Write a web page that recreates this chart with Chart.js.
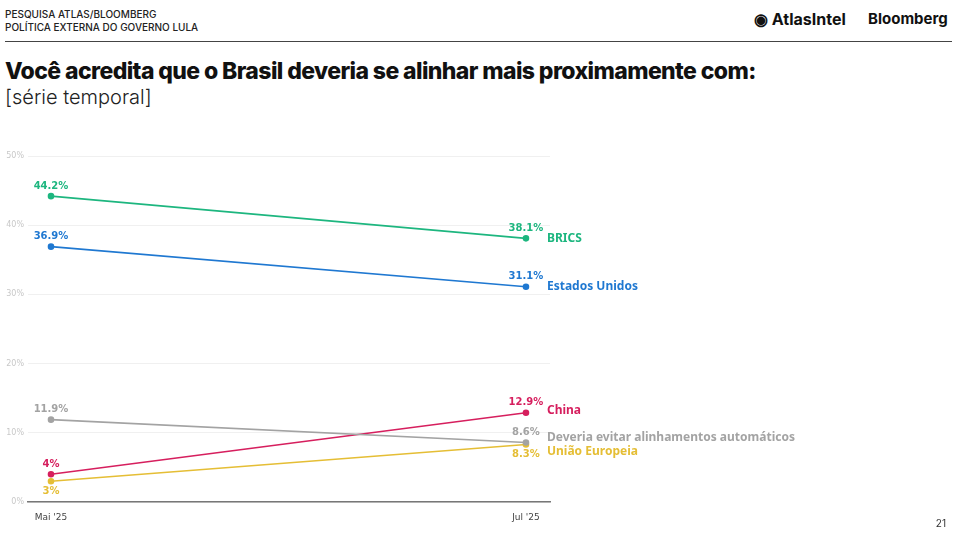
<!DOCTYPE html>
<html><head><meta charset="utf-8">
<script src="https://cdn.jsdelivr.net/npm/chart.js@4"></script>
<style>
body{margin:0;width:960px;height:540px;background:#fff;font-family:Inter,"Noto Sans",sans-serif;position:relative;overflow:hidden}
.hdr{position:absolute;left:5px;top:8px;font-size:10px;line-height:13px;color:#222;font-weight:500}
.rule{position:absolute;left:5px;right:8px;top:41px;border-top:1px solid #444}
.logo1{position:absolute;left:754px;top:9px;font-size:16px;font-weight:700;color:#111}
.logo2{position:absolute;left:868px;top:9px;font-size:15px;font-weight:700;color:#111}
h1{position:absolute;left:5px;top:57px;margin:0;font-size:23px;font-weight:800;letter-spacing:-0.6px;color:#111}
.sub{position:absolute;left:5px;top:85px;font-size:20px;color:#222;font-weight:300}
.pg{position:absolute;right:14px;top:517px;font-size:10px;color:#333}
#wrap{position:absolute;left:0;top:146px;width:960px;height:376px}
</style></head><body>
<div class="hdr">PESQUISA ATLAS/BLOOMBERG<br>POLÍTICA EXTERNA DO GOVERNO LULA</div>
<div class="logo1">◉ AtlasIntel</div><div class="logo2">Bloomberg</div>
<div class="rule"></div>
<h1>Você acredita que o Brasil deveria se alinhar mais proximamente com:</h1>
<div class="sub">[série temporal]</div>
<div id="wrap"><canvas id="c"></canvas></div>
<div class="pg">21</div>
<script>
const periods = ["Mai '25", "Jul '25"];
const seriesNames = ["BRICS", "Estados Unidos", "Deveria evitar alinhamentos automáticos", "China", "União Europeia"];
const brics = [44.2, 38.1];
const eua = [36.9, 31.1];
const evitar = [11.9, 8.6];
const china = [4, 12.9];
const ue = [3, 8.3];
const yTicks = [0, 10, 20, 30, 40, 50];

const colors = ["#1db67f", "#1f78d1", "#a3a3a3", "#d61f5e", "#e5be35"];
const allData = [brics, eua, evitar, china, ue];
// label offsets: above (-) or below (+) the point, [first, last]
const valOff = [[-1,-1],[-1,-1],[-1,-1],[-1,-1],[1,1]];
const nameDy = [0, 0, -5, -2, 7];

const labelPlugin = {
  id: "labels",
  afterDatasetsDraw(chart) {
    const ctx = chart.ctx;
    ctx.save();
    chart.data.datasets.forEach((ds, i) => {
      const meta = chart.getDatasetMeta(i);
      meta.data.forEach((pt, j) => {
        const v = ds.data[j].y;
        ctx.fillStyle = colors[i];
        ctx.font = "bold 10px 'DejaVu Sans'";
        ctx.textAlign = "center";
        ctx.textBaseline = valOff[i][j] < 0 ? "bottom" : "top";
        ctx.fillText(v + "%", pt.x, pt.y + valOff[i][j] * 5);
      });
      const last = meta.data[meta.data.length - 1];
      ctx.font = "bold 12px 'Noto Sans'";
      ctx.textAlign = "left";
      ctx.textBaseline = "middle";
      ctx.fillText(seriesNames[i], last.x + 21, last.y + nameDy[i]);
    });
    ctx.restore();
  }
};

new Chart(document.getElementById("c"), {
  type: "line",
  data: {
    datasets: allData.map((d, i) => ({
      label: seriesNames[i],
      data: d.map((v, j) => ({ x: j, y: v })),
      borderColor: colors[i],
      backgroundColor: colors[i],
      borderWidth: 1.6,
      pointRadius: 2.5,
      pointHoverRadius: 2.5
    }))
  },
  options: {
    responsive: true,
    maintainAspectRatio: false,
    animation: false,
    layout: { padding: { top: 10, right: 410, left: 0, bottom: 0 } },
    plugins: { legend: { display: false }, tooltip: { enabled: false } },
    scales: {
      x: {
        type: "linear", min: -0.0484, max: 1.0506,
        afterBuildTicks: s => { s.ticks = periods.map((p, i) => ({ value: i })); },
        afterFit: s => { s.height = 20; },
        ticks: { callback: (v) => periods[v], color: "#444", font: { size: 9, family: "DejaVu Sans" }, padding: 2 },
        grid: { display: false, drawTicks: true },
        border: { color: "#777", width: 1.5 }
      },
      y: {
        min: 0, max: 50,
        afterBuildTicks: s => { s.ticks = yTicks.map(v => ({ value: v })); },
        afterFit: s => { s.width = 28; },
        ticks: { callback: v => v + "%", color: "#c8c8c8", font: { size: 8, family: "DejaVu Sans" }, padding: 4 },
        grid: { color: "#f0f0f0", drawTicks: false },
        border: { display: false }
      }
    }
  },
  plugins: [labelPlugin]
});
</script>
</body></html>
